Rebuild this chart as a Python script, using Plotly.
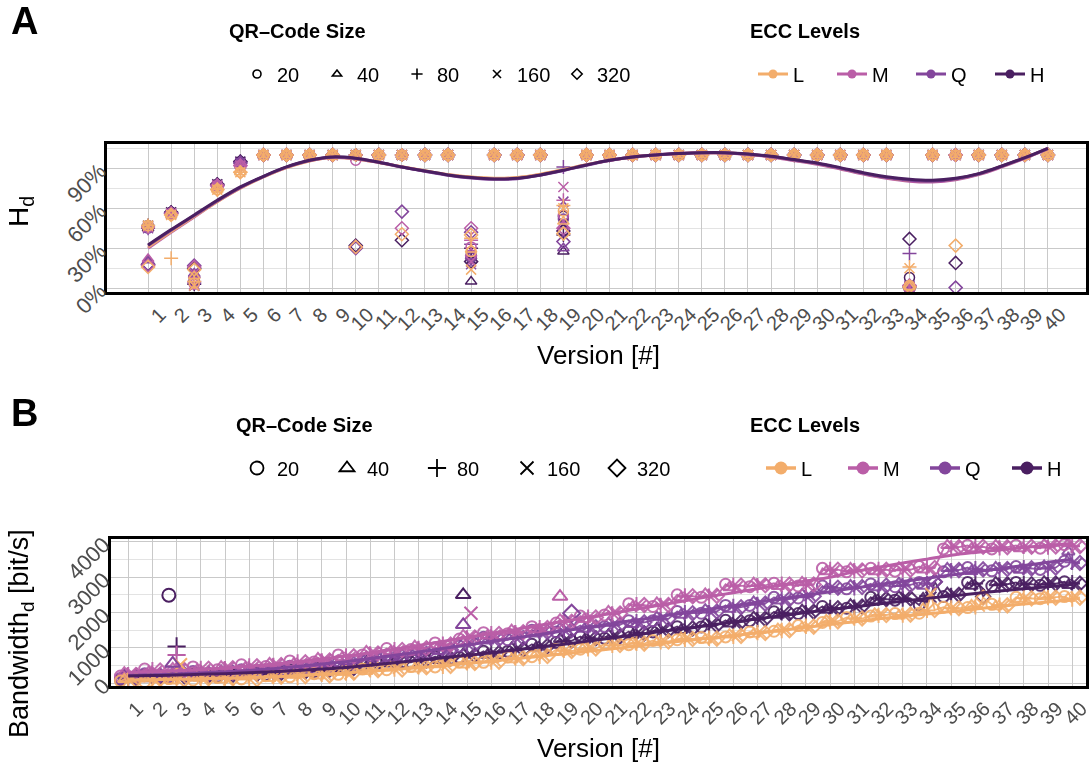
import plotly.graph_objects as go

# ---------------- data ----------------
versions = list(range(1, 41))
sizes = [20, 40, 80, 160, 320]
ecc_levels = ["L", "M", "Q", "H"]

# Panel A: H_d per ECC level and QR-code size (fractions)
hd_L20 = [0.47, 0.55, 0.04, 0.74, 0.87, 1, 1, 1, 1, 1, 1, 1, 1, 1, 0.275, 1, 1, 1, 0.58, 1, 1, 1, 1, 1, 1, 1, 1, 1, 1, 1, 1, 1, 1, 0.02, 1, 1, 1, 1, 1, 1]
hd_L40 = [0.47, 0.55, 0.09, 0.74, 0.87, 1, 1, 1, 1, 1, 1, 1, 1, 1, 0.29, 1, 1, 1, 0.50, 1, 1, 1, 1, 1, 1, 1, 1, 1, 1, 1, 1, 1, 1, 0.01, 1, 1, 1, 1, 1, 1]
hd_L80 = [0.47, 0.225, 0.05, 0.74, 0.87, 1, 1, 1, 1, 1, 1, 1, 1, 1, 0.375, 1, 1, 1, 0.62, 1, 1, 1, 1, 1, 1, 1, 1, 1, 1, 1, 1, 1, 1, 0.16, 1, 1, 1, 1, 1, 1]
hd_L160 = [0.47, 0.55, 0.02, 0.74, 0.87, 1, 1, 1, 1, 1, 1, 1, 1, 1, 0.14, 1, 1, 1, 0.60, 1, 1, 1, 1, 1, 1, 1, 1, 1, 1, 1, 1, 1, 1, 0.15, 1, 1, 1, 1, 1, 1]
hd_L320 = [0.16, 0.55, 0.14, 0.74, 0.87, 1, 1, 1, 1, 0.31, 1, 0.405, 1, 1, 0.40, 1, 1, 1, 0.41, 1, 1, 1, 1, 1, 1, 1, 1, 1, 1, 1, 1, 1, 1, 0.01, 1, 0.32, 1, 1, 1, 1]

hd_M20 = [0.46, 0.56, 0.03, 0.77, 0.92, 1, 1, 1, 1, 0.96, 1, 1, 1, 1, 0.31, 1, 1, 1, 0.55, 1, 1, 1, 1, 1, 1, 1, 1, 1, 1, 1, 1, 1, 1, 0.01, 1, 1, 1, 1, 1, 1]
hd_M40 = [0.22, 0.56, 0.10, 0.77, 0.92, 1, 1, 1, 1, 1, 1, 1, 1, 1, 0.26, 1, 1, 1, 0.47, 1, 1, 1, 1, 1, 1, 1, 1, 1, 1, 1, 1, 1, 1, 0.005, 1, 1, 1, 1, 1, 1]
hd_M80 = [0.46, 0.56, 0.05, 0.77, 0.92, 1, 1, 1, 1, 1, 1, 1, 1, 1, 0.36, 1, 1, 1, 0.66, 1, 1, 1, 1, 1, 1, 1, 1, 1, 1, 1, 1, 1, 1, 0.02, 1, 1, 1, 1, 1, 1]
hd_M160 = [0.46, 0.56, 0.03, 0.77, 0.92, 1, 1, 1, 1, 1, 1, 1, 1, 1, 0.20, 1, 1, 1, 0.76, 1, 1, 1, 1, 1, 1, 1, 1, 1, 1, 1, 1, 1, 1, 0.01, 1, 1, 1, 1, 1, 1]
hd_M320 = [0.17, 0.56, 0.16, 0.77, 0.92, 1, 1, 1, 1, 0.31, 1, 0.45, 1, 1, 0.45, 1, 1, 1, 0.45, 1, 1, 1, 1, 1, 1, 1, 1, 1, 1, 1, 1, 1, 1, 0.02, 1, 1, 1, 1, 1, 1]

hd_Q20 = [0.45, 0.56, 0.05, 0.77, 0.94, 1, 1, 1, 1, 1, 1, 1, 1, 1, 0.25, 1, 1, 1, 0.52, 1, 1, 1, 1, 1, 1, 1, 1, 1, 1, 1, 1, 1, 1, 0.01, 1, 1, 1, 1, 1, 1]
hd_Q40 = [0.21, 0.56, 0.11, 0.77, 0.94, 1, 1, 1, 1, 1, 1, 1, 1, 1, 0.24, 1, 1, 1, 0.30, 1, 1, 1, 1, 1, 1, 1, 1, 1, 1, 1, 1, 1, 1, 0.01, 1, 1, 1, 1, 1, 1]
hd_Q80 = [0.45, 0.56, 0.04, 0.77, 0.94, 1, 1, 1, 1, 1, 1, 1, 1, 1, 0.33, 1, 1, 1, 0.91, 1, 1, 1, 1, 1, 1, 1, 1, 1, 1, 1, 1, 1, 1, 0.26, 1, 1, 1, 1, 1, 1]
hd_Q160 = [0.45, 0.56, 0.02, 0.77, 0.94, 1, 1, 1, 1, 1, 1, 1, 1, 1, 0.18, 1, 1, 1, 0.65, 1, 1, 1, 1, 1, 1, 1, 1, 1, 1, 1, 1, 1, 1, 0.02, 1, 1, 1, 1, 1, 1]
hd_Q320 = [0.18, 0.56, 0.17, 0.77, 0.94, 1, 1, 1, 1, 0.30, 1, 0.575, 1, 1, 0.42, 1, 1, 1, 0.35, 1, 1, 1, 1, 1, 1, 1, 1, 1, 1, 1, 1, 1, 1, 0.01, 1, 0.005, 1, 1, 1, 1]

hd_H20 = [0.47, 0.57, 0.06, 0.78, 0.95, 1, 1, 1, 1, 1, 1, 1, 1, 1, 0.23, 1, 1, 1, 0.54, 1, 1, 1, 1, 1, 1, 1, 1, 1, 1, 1, 1, 1, 1, 0.08, 1, 1, 1, 1, 1, 1]
hd_H40 = [0.45, 0.57, 0.10, 0.78, 0.95, 1, 1, 1, 1, 1, 1, 1, 1, 1, 0.05, 1, 1, 1, 0.275, 1, 1, 1, 1, 1, 1, 1, 1, 1, 1, 1, 1, 1, 1, 0.01, 1, 1, 1, 1, 1, 1]
hd_H80 = [0.47, 0.57, 0.03, 0.78, 0.95, 1, 1, 1, 1, 1, 1, 1, 1, 1, 0.30, 1, 1, 1, 0.40, 1, 1, 1, 1, 1, 1, 1, 1, 1, 1, 1, 1, 1, 1, 0.01, 1, 1, 1, 1, 1, 1]
hd_H160 = [0.47, 0.57, 0.02, 0.78, 0.95, 1, 1, 1, 1, 1, 1, 1, 1, 1, 0.22, 1, 1, 1, 0.48, 1, 1, 1, 1, 1, 1, 1, 1, 1, 1, 1, 1, 1, 1, 0.01, 1, 1, 1, 1, 1, 1]
hd_H320 = [0.18, 0.57, 0.15, 0.78, 0.95, 1, 1, 1, 1, 0.32, 1, 0.36, 1, 1, 0.20, 1, 1, 1, 0.43, 1, 1, 1, 1, 1, 1, 1, 1, 1, 1, 1, 1, 1, 1, 0.37, 1, 0.19, 1, 1, 1, 1]

# Panel A smoothed trend per ECC level
hd_smooth_L = [0.31, 0.425, 0.54, 0.65, 0.75, 0.835, 0.905, 0.955, 0.98, 0.97, 0.944, 0.912, 0.882, 0.853, 0.834, 0.825, 0.83, 0.855, 0.89, 0.927, 0.96, 0.985, 1.0, 1.01, 1.016, 1.016, 1.005, 0.988, 0.962, 0.935, 0.9, 0.862, 0.83, 0.81, 0.805, 0.82, 0.857, 0.915, 0.978, 1.05]
hd_smooth_M = [0.30, 0.42, 0.535, 0.65, 0.752, 0.836, 0.906, 0.956, 0.98, 0.97, 0.943, 0.91, 0.88, 0.852, 0.833, 0.823, 0.828, 0.853, 0.888, 0.926, 0.96, 0.985, 1.0, 1.01, 1.016, 1.015, 1.003, 0.985, 0.958, 0.93, 0.895, 0.857, 0.825, 0.803, 0.797, 0.813, 0.852, 0.91, 0.975, 1.045]
hd_smooth_Q = [0.32, 0.435, 0.545, 0.655, 0.755, 0.838, 0.908, 0.958, 0.982, 0.973, 0.945, 0.91, 0.878, 0.848, 0.827, 0.817, 0.822, 0.848, 0.883, 0.923, 0.958, 0.984, 1.0, 1.01, 1.016, 1.016, 1.005, 0.988, 0.962, 0.935, 0.9, 0.862, 0.83, 0.81, 0.803, 0.82, 0.857, 0.915, 0.978, 1.05]
hd_smooth_H = [0.325, 0.44, 0.55, 0.66, 0.76, 0.84, 0.91, 0.96, 0.985, 0.975, 0.945, 0.91, 0.88, 0.85, 0.83, 0.82, 0.825, 0.85, 0.885, 0.925, 0.96, 0.985, 1.0, 1.01, 1.017, 1.017, 1.007, 0.99, 0.965, 0.94, 0.905, 0.867, 0.837, 0.817, 0.81, 0.825, 0.86, 0.917, 0.98, 1.05]

# Panel B: bandwidth [bit/s] per ECC level and QR-code size
bw_L20 = [60, 40, 130, 90, 160, 120, 210, 180, 270, 250, 400, 380, 470, 460, 600, 590, 740, 750, 950, 960, 1110, 1090, 1210, 1230, 1290, 1310, 1450, 1470, 1630, 1720, 1860, 1900, 1970, 1980, 2150, 2140, 2230, 2430, 2390, 2450]
bw_L40 = [110, 130, 70, 150, 100, 180, 140, 230, 210, 310, 340, 440, 410, 530, 520, 660, 670, 810, 880, 1020, 1050, 1150, 1150, 1280, 1230, 1370, 1390, 1530, 1570, 1780, 1800, 1960, 1910, 2100, 2090, 2200, 2170, 2380, 2450, 2400]
bw_L80 = [40, 100, 120, 70, 150, 130, 190, 160, 250, 290, 380, 400, 460, 480, 580, 600, 710, 760, 930, 970, 1070, 1130, 1170, 1240, 1270, 1330, 1430, 1490, 1610, 1740, 1840, 1920, 1930, 2060, 2130, 2160, 2210, 2410, 2420, 2380]
bw_L160 = [130, 60, 150, 120, 90, 170, 150, 220, 230, 260, 350, 420, 430, 510, 550, 630, 690, 790, 900, 1000, 1090, 1110, 1190, 1260, 1250, 1350, 1410, 1510, 1590, 1760, 1820, 1940, 1950, 2540, 2110, 2180, 2190, 2390, 2430, 2440]
bw_L320 = [90, 120, 100, 140, 140, 110, 180, 200, 220, 300, 370, 390, 450, 490, 570, 610, 710, 770, 910, 980, 1080, 1120, 1180, 1250, 1260, 1340, 1420, 1500, 1600, 1750, 1830, 1930, 1940, 2070, 2120, 2420, 2200, 2400, 2420, 2420]

bw_M20 = [200, 400, 330, 460, 380, 520, 470, 630, 600, 800, 800, 980, 950, 1140, 1250, 1430, 1400, 1600, 1700, 1900, 1930, 2250, 2170, 2500, 2430, 2800, 2730, 2830, 2750, 3250, 3150, 3250, 3170, 3300, 3800, 3900, 3800, 3900, 3820, 3920]
bw_M40 = [300, 310, 420, 370, 470, 440, 560, 550, 700, 720, 900, 890, 1050, 1040, 1350, 1340, 1500, 1510, 1800, 1810, 2030, 2160, 2270, 2410, 2530, 2710, 2830, 2740, 2850, 3160, 3250, 3160, 3270, 3210, 3900, 3810, 3900, 3810, 3920, 3950]
bw_M80 = [240, 380, 350, 420, 410, 490, 500, 600, 630, 770, 830, 950, 980, 1100, 1280, 1400, 1430, 1570, 1730, 1870, 1960, 2220, 2200, 2470, 2460, 2770, 2760, 2800, 2780, 3220, 3180, 3220, 3200, 3270, 3830, 3870, 3830, 3870, 3850, 3890]
bw_M160 = [280, 330, 400, 380, 450, 460, 540, 560, 670, 730, 870, 910, 1020, 1060, 1320, 1360, 1470, 1530, 1770, 1830, 2000, 2180, 2240, 2430, 2500, 2730, 2800, 2760, 2820, 3180, 3220, 3180, 3240, 3230, 3870, 3830, 3870, 3830, 3890, 3850]
bw_M320 = [230, 360, 370, 410, 420, 480, 510, 590, 640, 760, 840, 940, 990, 1090, 1290, 1390, 1440, 1560, 1740, 1860, 1970, 2210, 2210, 2460, 2470, 2760, 2770, 2790, 2790, 3210, 3190, 3210, 3210, 3260, 3850, 3860, 3850, 3860, 3870, 3880]

bw_Q20 = [130, 270, 200, 330, 250, 380, 320, 480, 430, 600, 630, 800, 780, 1000, 1050, 1300, 1230, 1500, 1450, 1630, 1600, 1770, 1770, 2030, 1980, 2200, 2200, 2430, 2410, 2750, 2670, 2810, 2730, 2850, 3150, 3270, 3180, 3300, 3220, 3450]
bw_Q40 = [230, 170, 300, 220, 350, 290, 420, 370, 530, 490, 730, 700, 880, 900, 1150, 1200, 1330, 1400, 1550, 1530, 1700, 1670, 1870, 1930, 2080, 2100, 2300, 2330, 2510, 2650, 2770, 2710, 2830, 2750, 3250, 3170, 3280, 3200, 3320, 3720]
bw_Q80 = [160, 240, 230, 290, 280, 350, 350, 440, 460, 560, 660, 770, 810, 970, 1080, 1270, 1260, 1470, 1480, 1600, 1630, 1740, 1800, 2000, 2010, 2170, 2230, 2400, 2440, 2720, 2700, 2780, 2760, 2820, 3180, 3240, 3210, 3270, 3250, 3420]
bw_Q160 = [200, 200, 270, 250, 320, 310, 390, 400, 500, 520, 700, 730, 850, 930, 1120, 1230, 1300, 1430, 1520, 1560, 1670, 1700, 1840, 1960, 2050, 2130, 2270, 2360, 2480, 2680, 2740, 2740, 2800, 2780, 3220, 3200, 3250, 3230, 3290, 3380]
bw_Q320 = [180, 220, 250, 270, 300, 330, 370, 420, 480, 540, 680, 750, 830, 950, 1100, 1250, 1280, 1450, 1500, 1580, 1650, 1720, 1820, 1980, 2030, 2150, 2250, 2380, 2460, 2700, 2720, 2760, 2780, 2870, 3200, 3220, 3230, 3250, 3270, 3400]

bw_H20 = [100, 230, 150, 260, 180, 310, 240, 380, 330, 480, 510, 650, 590, 750, 730, 900, 900, 1100, 1150, 1320, 1270, 1460, 1450, 1600, 1590, 1780, 1770, 2020, 1970, 2170, 2120, 2430, 2350, 2210, 2450, 2850, 2750, 2850, 2770, 2870]
bw_H40 = [200, 130, 250, 160, 280, 210, 340, 280, 430, 380, 610, 550, 690, 650, 830, 800, 1000, 1000, 1250, 1220, 1370, 1360, 1550, 1500, 1690, 1680, 1870, 1930, 2070, 2070, 2220, 2330, 2450, 2400, 2550, 2750, 2850, 2750, 2870, 2770]
bw_H80 = [130, 200, 180, 230, 210, 280, 270, 350, 360, 450, 540, 620, 620, 720, 760, 870, 930, 1070, 1180, 1290, 1300, 1430, 1480, 1570, 1620, 1750, 1800, 1990, 2000, 2140, 2150, 2400, 2380, 2470, 2480, 2820, 2780, 2820, 2800, 2840]
bw_H160 = [170, 160, 220, 190, 250, 240, 310, 310, 400, 410, 580, 580, 660, 680, 800, 830, 970, 1030, 1220, 1250, 1340, 1390, 1520, 1530, 1660, 1710, 1840, 1960, 2040, 2100, 2190, 2360, 2420, 2430, 2520, 2780, 2820, 2780, 2840, 2800]
bw_H320 = [150, 180, 200, 210, 230, 260, 290, 330, 380, 430, 560, 600, 640, 700, 780, 850, 950, 1050, 1200, 1270, 1320, 1410, 1500, 1550, 1640, 1730, 1820, 1975, 2020, 2120, 2170, 2380, 2400, 2870, 2500, 2450, 2800, 2800, 2820, 2820]

# Panel B isolated outlier measurements
out_ecc = ["H", "H", "M", "L", "Q", "H", "M", "Q", "M", "Q"]
out_size = [20, 80, 80, 160, 40, 40, 160, 40, 40, 320]
out_version = [3, 3, 3, 3, 3, 15, 15, 15, 19, 19]
out_value = [2490, 1040, 800, 520, 560, 2500, 1980, 1650, 2450, 1980]

# Panel B smoothed trend per ECC level
bw_smooth_L = [90, 100, 110, 125, 140, 160, 185, 215, 250, 290, 335, 385, 440, 500, 560, 620, 690, 760, 830, 900, 975, 1050, 1125, 1200, 1275, 1350, 1425, 1500, 1580, 1660, 1740, 1820, 1890, 1960, 2030, 2100, 2170, 2240, 2300, 2360]
bw_smooth_M = [300, 320, 350, 390, 430, 480, 540, 610, 690, 770, 860, 960, 1070, 1180, 1300, 1410, 1520, 1640, 1750, 1865, 1980, 2100, 2215, 2330, 2450, 2560, 2670, 2780, 2890, 3000, 3150, 3280, 3400, 3510, 3620, 3700, 3770, 3840, 3900, 3950]
bw_smooth_Q = [220, 240, 260, 290, 320, 360, 410, 470, 540, 610, 700, 790, 880, 980, 1080, 1180, 1280, 1380, 1480, 1580, 1690, 1790, 1890, 1990, 2090, 2190, 2290, 2390, 2490, 2590, 2690, 2790, 2880, 2970, 3060, 3150, 3240, 3330, 3420, 3510]
bw_smooth_H = [200, 215, 230, 250, 270, 295, 325, 360, 400, 445, 510, 580, 650, 720, 790, 860, 940, 1020, 1100, 1190, 1280, 1370, 1460, 1550, 1640, 1730, 1820, 1910, 2000, 2080, 2160, 2240, 2320, 2400, 2470, 2540, 2610, 2670, 2730, 2790]

hd_data = {
    "L": {20: hd_L20, 40: hd_L40, 80: hd_L80, 160: hd_L160, 320: hd_L320},
    "M": {20: hd_M20, 40: hd_M40, 80: hd_M80, 160: hd_M160, 320: hd_M320},
    "Q": {20: hd_Q20, 40: hd_Q40, 80: hd_Q80, 160: hd_Q160, 320: hd_Q320},
    "H": {20: hd_H20, 40: hd_H40, 80: hd_H80, 160: hd_H160, 320: hd_H320},
}
hd_smooth = {"L": hd_smooth_L, "M": hd_smooth_M, "Q": hd_smooth_Q, "H": hd_smooth_H}
bw_data = {
    "L": {20: bw_L20, 40: bw_L40, 80: bw_L80, 160: bw_L160, 320: bw_L320},
    "M": {20: bw_M20, 40: bw_M40, 80: bw_M80, 160: bw_M160, 320: bw_M320},
    "Q": {20: bw_Q20, 40: bw_Q40, 80: bw_Q80, 160: bw_Q160, 320: bw_Q320},
    "H": {20: bw_H20, 40: bw_H40, 80: bw_H80, 160: bw_H160, 320: bw_H320},
}
bw_smooth = {"L": bw_smooth_L, "M": bw_smooth_M, "Q": bw_smooth_Q, "H": bw_smooth_H}

# ---------------- style ----------------
colors = {"L": "#F3AD6B", "M": "#BA5EA7", "Q": "#83469C", "H": "#4A1F61"}
symbols = {20: "circle-open", 40: "triangle-up-open", 80: "cross-thin-open",
           160: "x-thin-open", 320: "diamond-open"}
dodge = {20: -0.32, 40: -0.16, 80: 0.0, 160: 0.16, 320: 0.32}
FONT = "Liberation Sans, Arial, sans-serif"
W, H = 1090, 769

fig = go.Figure()

# Panel A points
for ecc in ["H", "Q", "M", "L"]:
    for s in sizes:
        fig.add_trace(go.Scatter(
            x=versions, y=hd_data[ecc][s], mode="markers", xaxis="x", yaxis="y",
            marker=dict(symbol=symbols[s], size=10, color=colors[ecc],
                        line=dict(width=1.5, color=colors[ecc])),
            showlegend=False, hoverinfo="skip"))
# Panel A smooth lines
for ecc in ["M", "L", "Q", "H"]:
    fig.add_trace(go.Scatter(
        x=versions, y=hd_smooth[ecc], mode="lines", xaxis="x", yaxis="y",
        line=dict(color=colors[ecc], width=3, shape="spline"),
        showlegend=False, hoverinfo="skip"))

# Panel B: one connecting line per ECC level through all (dodged) measurements
for ecc in ["H", "Q", "M", "L"]:
    xs, ys = [], []
    for i, v in enumerate(versions):
        for s in sizes:
            xs.append(v + dodge[s])
            ys.append(bw_data[ecc][s][i])
    fig.add_trace(go.Scatter(
        x=xs, y=ys, mode="lines", xaxis="x2", yaxis="y2",
        line=dict(color=colors[ecc], width=1.8), opacity=0.9,
        showlegend=False, hoverinfo="skip"))
    for s in sizes:
        fig.add_trace(go.Scatter(
            x=[v + dodge[s] for v in versions], y=bw_data[ecc][s],
            mode="markers", xaxis="x2", yaxis="y2",
            marker=dict(symbol=symbols[s], size=11, color=colors[ecc],
                        line=dict(width=2, color=colors[ecc])),
            opacity=0.9, showlegend=False, hoverinfo="skip"))
for e, s, v, val in zip(out_ecc, out_size, out_version, out_value):
    fig.add_trace(go.Scatter(
        x=[v + dodge[s]], y=[val], mode="markers", xaxis="x2", yaxis="y2",
        marker=dict(symbol=symbols[s], size=13, color=colors[e],
                    line=dict(width=2, color=colors[e])),
        showlegend=False, hoverinfo="skip"))
for ecc in ["L", "M", "Q", "H"]:
    fig.add_trace(go.Scatter(
        x=versions, y=bw_smooth[ecc], mode="lines", xaxis="x2", yaxis="y2",
        line=dict(color=colors[ecc], width=3, shape="spline"),
        showlegend=False, hoverinfo="skip"))

# Legend entries
for legname, msize, lw in [("legend", 8, 1.6), ("legend3", 13, 1.8)]:
    for s in sizes:
        fig.add_trace(go.Scatter(
            x=[None], y=[None], mode="markers", name=str(s), legend=legname,
            xaxis="x" if legname == "legend" else "x2",
            yaxis="y" if legname == "legend" else "y2",
            marker=dict(symbol=symbols[s], size=msize, color="black",
                        line=dict(width=lw, color="black"))))
for legname, msize, lw in [("legend2", 9, 3), ("legend4", 13, 3.5)]:
    for ecc in ecc_levels:
        fig.add_trace(go.Scatter(
            x=[None], y=[None], mode="lines+markers", name=ecc, legend=legname,
            xaxis="x" if legname == "legend2" else "x2",
            yaxis="y" if legname == "legend2" else "y2",
            line=dict(color=colors[ecc], width=lw),
            marker=dict(symbol="circle", size=msize, color=colors[ecc])))

def px_x(p):
    return p / W

def px_y(p):
    return 1 - p / H

axis_common = dict(showline=True, linecolor="black", linewidth=3, mirror=True,
                   zeroline=False, ticks="", showgrid=True, automargin=False,
                   ticklabeloverflow="allow",
                   tickfont=dict(family=FONT, size=20, color="#4D4D4D"))

xa = dict(axis_common, domain=[px_x(107), px_x(1086)], range=[-0.78, 41.65],
          tickmode="array", tickvals=versions, ticktext=[str(v) for v in versions],
          tickangle=-45, gridcolor="#C9C9C9", gridwidth=1.2, anchor="y",
          ticklabelshift=12, ticklabelstandoff=0)
ya = dict(axis_common, domain=[px_y(292), px_y(144)], range=[-0.028, 1.082],
          tickmode="linear", tick0=0, dtick=0.3, tickformat=".0%", tickangle=-45,
          gridcolor="#C9C9C9", gridwidth=1.2, anchor="x",
          minor=dict(dtick=0.15, tick0=0, showgrid=True, gridcolor="#E3E3E3", gridwidth=1),
          tickfont=dict(family=FONT, size=22, color="#4D4D4D"))
xb = dict(xa, domain=[px_x(111), px_x(1086)], range=[0.29, 40.57], anchor="y2",
          ticklabelshift=9)
yb = dict(axis_common, domain=[px_y(686), px_y(539)], range=[-80, 4080],
          tickmode="linear", tick0=0, dtick=1000, tickangle=-45,
          gridcolor="#C9C9C9", gridwidth=1.2, anchor="x2",
          minor=dict(dtick=500, tick0=0, showgrid=True, gridcolor="#E3E3E3", gridwidth=1),
          tickfont=dict(family=FONT, size=22, color="#4D4D4D"))

leg_common = dict(orientation="h", xanchor="left", yanchor="middle",
                  font=dict(family=FONT, size=20, color="black"),
                  bgcolor="rgba(0,0,0,0)", borderwidth=0,
                  entrywidthmode="pixels")

def ann(text, x, y, size, xanchor="center", angle=0):
    return dict(text=text, x=px_x(x), y=px_y(y), xref="paper", yref="paper",
                xanchor=xanchor, yanchor="middle", textangle=angle,
                showarrow=False, font=dict(family=FONT, size=size, color="black"))

annotations = [
    ann("<b>A</b>", 24, 21, 38),
    ann("<b>B</b>", 24, 413, 38),
    ann("<b>QR\u2013Code Size</b>", 227, 31, 20, "left"),
    ann("<b>ECC Levels</b>", 748, 31, 20, "left"),
    ann("<b>QR\u2013Code Size</b>", 234, 425, 20, "left"),
    ann("<b>ECC Levels</b>", 748, 425, 20, "left"),
    ann("Version [#]", 598, 355, 26),
    ann("Version [#]", 598, 748, 26),
    ann("H<sub>d</sub>", 21, 212, 28, angle=-90),
    ann("Bandwidth<sub>d</sub> [bit/s]", 21, 634, 27, angle=-90),
]

fig.update_layout(
    width=W, height=H, margin=dict(l=0, r=0, t=0, b=0, autoexpand=False),
    paper_bgcolor="white", plot_bgcolor="white",
    font=dict(family=FONT, color="black"),
    xaxis=xa, yaxis=ya, xaxis2=xb, yaxis2=yb,
    legend=dict(leg_common, x=px_x(237), y=px_y(74), entrywidth=35),
    legend2=dict(leg_common, x=px_x(753), y=px_y(74), entrywidth=34),
    legend3=dict(leg_common, x=px_x(237), y=px_y(468), entrywidth=45),
    legend4=dict(leg_common, x=px_x(761), y=px_y(468), entrywidth=37),
    annotations=annotations,
    showlegend=True,
)

fig.write_html("out.html")
